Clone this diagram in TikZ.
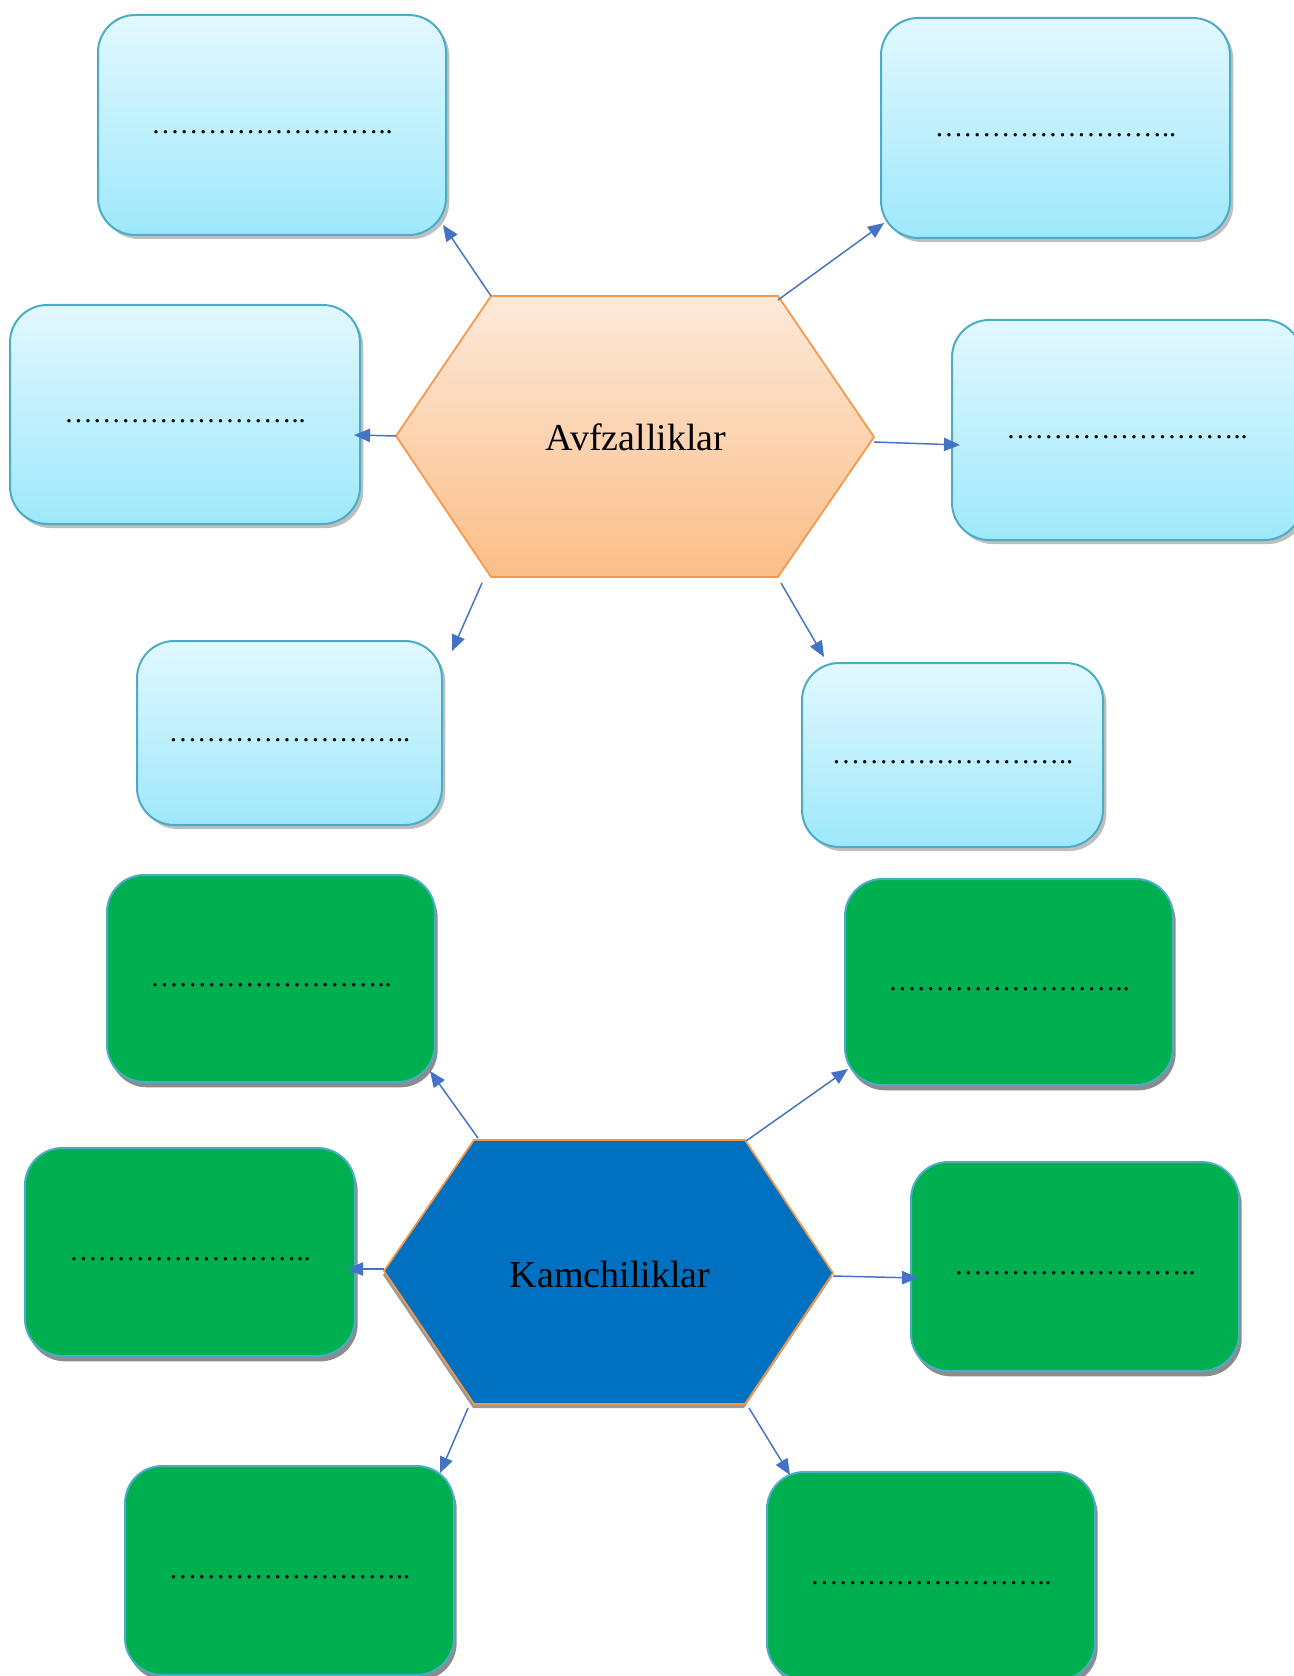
\documentclass[tikz,border=0pt]{standalone}
\usepackage{fontspec}
\setmainfont{Liberation Serif}
\usetikzlibrary{shadows,arrows.meta,calc}
\definecolor{lbtop}{RGB}{226,248,255}
\definecolor{lbbot}{RGB}{158,232,252}
\definecolor{lbline}{RGB}{75,172,198}
\definecolor{ortop}{RGB}{253,233,218}
\definecolor{orbot}{RGB}{251,190,135}
\definecolor{orline}{RGB}{247,150,70}
\definecolor{grfill}{RGB}{0,176,80}
\definecolor{hexblue}{RGB}{0,112,192}
\definecolor{arrowc}{RGB}{68,114,196}
\tikzset{
  lbox/.style={draw=lbline, line width=1.5pt, rounded corners=28pt,
    top color=lbtop, bottom color=lbbot, inner sep=0pt,
    font=\fontsize{21.3}{26}\selectfont,
    drop shadow={shadow xshift=2.5pt, shadow yshift=-3pt, fill=black, opacity=0.25}},
  gbox/.style={draw=lbline, line width=1.5pt, rounded corners=28pt,
    fill=grfill, inner sep=0pt,
    font=\fontsize{21.3}{26}\selectfont,
    drop shadow={shadow xshift=2pt, shadow yshift=-4pt, fill=black!45, opacity=1}},
  hexo/.style={draw=orline, line width=1.3pt, top color=ortop, bottom color=orbot, line join=miter},
  hexb/.style={draw=orline, line width=1.3pt, fill=hexblue, line join=miter},
  hexshadow/.style={fill=black!40},
  hextext/.style={font=\fontsize{28.5}{32}\selectfont, inner sep=0pt},
  conn/.style={draw=arrowc, line width=1.1pt, -{Triangle[length=12pt,width=10pt]}},
}
\newcommand\dotstext{……………………..}
\newcommand\pbox[6]{%
  \node[#1, minimum width={(#5-#3)*0.75pt}, minimum height={(#6-#4)*0.75pt}]
    (#2) at ({(#3+#5)/2},{(#4+#6)/2}) {\raisebox{-12.5pt}{\dotstext}};}
\begin{document}
\begin{tikzpicture}[x=0.75pt,y=-0.75pt]
\useasboundingbox (0,0) rectangle (1293,1676);
\fill[white] (0,0) rectangle (1293,1676);

% ---------- top part ----------
\pbox{lbox}{b1}{98}{15}{446}{235}
\pbox{lbox}{b2}{881}{18}{1230}{238}
\pbox{lbox}{b3}{10}{305}{360}{524}
\pbox{lbox}{b4}{952}{320}{1302}{540}
\pbox{lbox}{b5}{137}{641}{442}{825}
\pbox{lbox}{b6}{802}{663}{1103}{847}

\coordinate (h1l) at (396,436);
\coordinate (h1tl) at (491,296);
\coordinate (h1tr) at (778,296);
\coordinate (h1r) at (874,437);
\coordinate (h1br) at (778,577);
\coordinate (h1bl) at (491,577);
\draw[hexo] (h1l) -- (h1tl) -- (h1tr) -- (h1r) -- (h1br) -- (h1bl) -- cycle;
\node[hextext] (hex1) at (636,437) {Avfzalliklar};

\coordinate (s5) at (482,583);
\coordinate (s6) at (781,583);
\coordinate (s2) at (778,300);
\coordinate (s4) at (874,442);
\coordinate (t1) at (443,225);
\coordinate (t2) at (884,223);
\coordinate (t3) at (354,435);
\coordinate (t4) at (960,445);
\coordinate (t5) at (452,651);
\coordinate (t6) at (824,657);
\draw[conn] (h1tl) -- (t1);
\draw[conn] (s2) -- (t2);
\draw[conn] (h1l) -- (t3);
\draw[conn] (s4) -- (t4);
\draw[conn] (s5) -- (t5);
\draw[conn] (s6) -- (t6);

% ---------- bottom part ----------
\pbox{gbox}{g1}{107}{875}{435}{1082}
\pbox{gbox}{g2}{845}{879}{1173}{1085}
\pbox{gbox}{g3}{25}{1148}{355}{1356}
\pbox{gbox}{g4}{911}{1162}{1239}{1371}
\pbox{gbox}{g5}{125}{1466}{454}{1675}
\pbox{gbox}{g6}{767}{1472}{1095}{1680}

\coordinate (h2l) at (384,1271);
\coordinate (h2tl) at (474,1140);
\coordinate (h2tr) at (745,1140);
\coordinate (h2r) at (833,1273);
\coordinate (h2br) at (745,1404);
\coordinate (h2bl) at (474,1404);
\fill[hexshadow] ($(h2l)+(-1,4)$) -- ($(h2tl)+(-1,4)$) -- ($(h2tr)+(-1,4)$) -- ($(h2r)+(-1,4)$) -- ($(h2br)+(-1,4)$) -- ($(h2bl)+(-1,4)$) -- cycle;
\draw[hexb] (h2l) -- (h2tl) -- (h2tr) -- (h2r) -- (h2br) -- (h2bl) -- cycle;
\node[hextext] (hex2) at (610,1274) {Kamchiliklar};

\coordinate (u1) at (478,1138);
\coordinate (u2) at (746,1141);
\coordinate (u3) at (384,1269);
\coordinate (u4) at (833,1276);
\coordinate (u5) at (468,1408);
\coordinate (u6) at (749,1408);
\coordinate (v1) at (430,1071);
\coordinate (v2) at (848,1069);
\coordinate (v3) at (347,1269);
\coordinate (v4) at (918,1278);
\coordinate (v5) at (440,1473);
\coordinate (v6) at (790,1475);
\draw[conn] (u1) -- (v1);
\draw[conn] (u2) -- (v2);
\draw[conn] (u3) -- (v3);
\draw[conn] (u4) -- (v4);
\draw[conn] (u5) -- (v5);
\draw[conn] (u6) -- (v6);
\end{tikzpicture}
\end{document}
